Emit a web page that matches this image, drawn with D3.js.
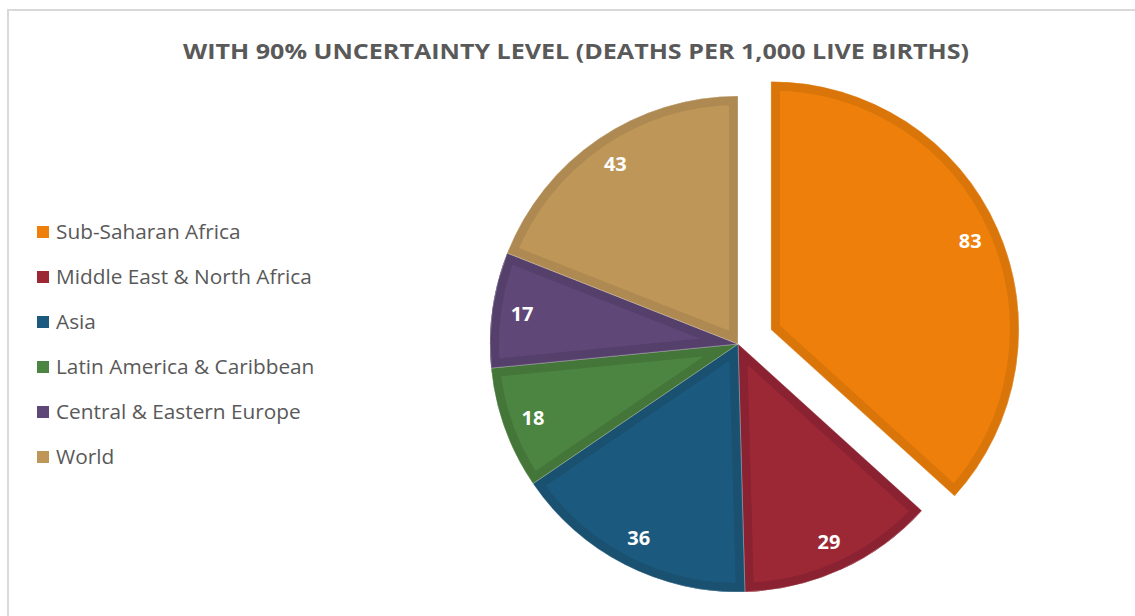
<!DOCTYPE html>
<html>
<head>
<meta charset="utf-8">
<script src="https://cdn.jsdelivr.net/npm/d3@7"></script>
<style>
  html, body { margin: 0; padding: 0; background: #ffffff; }
  svg { display: block; }
</style>
</head>
<body>
<svg id="chart" width="1135" height="616"></svg>
<script>
// Under-five mortality by region (deaths per 1,000 live births)
const regions = ["Sub-Saharan Africa", "Middle East & North Africa", "Asia",
                 "Latin America & Caribbean", "Central & Eastern Europe", "World"];
const values = [83, 29, 36, 18, 17, 43];
const fills = ["#EE7F0A", "#9C2836", "#1B5A7E", "#4C8441", "#5F4778", "#BE9657"];
const edges = ["#D97509", "#8A2231", "#1A5070", "#447539", "#553F6B", "#AE8A52"];
const explodedIndex = 0;
const titleText = "WITH 90% UNCERTAINTY LEVEL (DEATHS PER 1,000 LIVE BIRTHS)";

const svg = d3.select("#chart");
const W = 1135, H = 616;

// chart frame
svg.append("path")
  .attr("d", `M8,${H} L8,10 L${W},10`)
  .attr("fill", "none")
  .attr("stroke", "#d9d9d9")
  .attr("stroke-width", 2);

// title
svg.append("text")
  .attr("x", 576)
  .attr("y", 59)
  .attr("text-anchor", "middle")
  .attr("font-family", "'Open Sans', sans-serif")
  .attr("font-weight", "bold")
  .attr("font-size", 21.5)
  .attr("fill", "#595959")
  .attr("textLength", 786)
  .attr("lengthAdjust", "spacingAndGlyphs")
  .text(titleText);

// pie
const cx = 738, cy = 344, R = 248, explode = 36, labelR = 218;
const pie = d3.pie().sort(null).value(d => d)(values);
const arc = d3.arc().innerRadius(0).outerRadius(R);

const defs = svg.append("defs");
const g = svg.append("g").attr("transform", `translate(${cx},${cy})`);

pie.forEach((p, i) => {
  const mid = (p.startAngle + p.endAngle) / 2;
  const off = i === explodedIndex ? explode : 0;
  const dx = Math.sin(mid) * off, dy = -Math.cos(mid) * off;
  const sg = g.append("g").attr("transform", `translate(${dx},${dy})`);
  const d = arc(p);
  defs.append("clipPath").attr("id", "clip" + i).append("path").attr("d", d);
  sg.append("path")
    .attr("d", d)
    .attr("fill", fills[i]);
  // inner bevel edge
  sg.append("path")
    .attr("d", d)
    .attr("fill", "none")
    .attr("stroke", edges[i])
    .attr("stroke-width", 18)
    .attr("stroke-linejoin", "miter")
    .attr("clip-path", `url(#clip${i})`);
  // thin light separator
  sg.append("path")
    .attr("d", d)
    .attr("fill", "none")
    .attr("stroke", "rgba(255,255,255,0.35)")
    .attr("stroke-width", 0.8);
  sg.append("text")
    .attr("x", Math.sin(mid) * labelR)
    .attr("y", -Math.cos(mid) * labelR)
    .attr("dy", "0.36em")
    .attr("text-anchor", "middle")
    .attr("font-family", "'Open Sans', sans-serif")
    .attr("font-weight", "bold")
    .attr("font-size", 20)
    .attr("fill", "#ffffff")
    .text(values[i]);
});

// legend
const legendY = d3.scalePoint().domain(regions).range([232, 457]);
const lg = svg.append("g");
regions.forEach((r, i) => {
  const y = legendY(r);
  lg.append("rect")
    .attr("x", 37).attr("y", y - 6)
    .attr("width", 12).attr("height", 12)
    .attr("fill", fills[i]);
  lg.append("text")
    .attr("x", 56).attr("y", y)
    .attr("dy", "0.35em")
    .attr("font-family", "'Open Sans', sans-serif")
    .attr("font-size", 20.8)
    .attr("fill", "#595959")
    .text(r);
});
</script>
</body>
</html>
